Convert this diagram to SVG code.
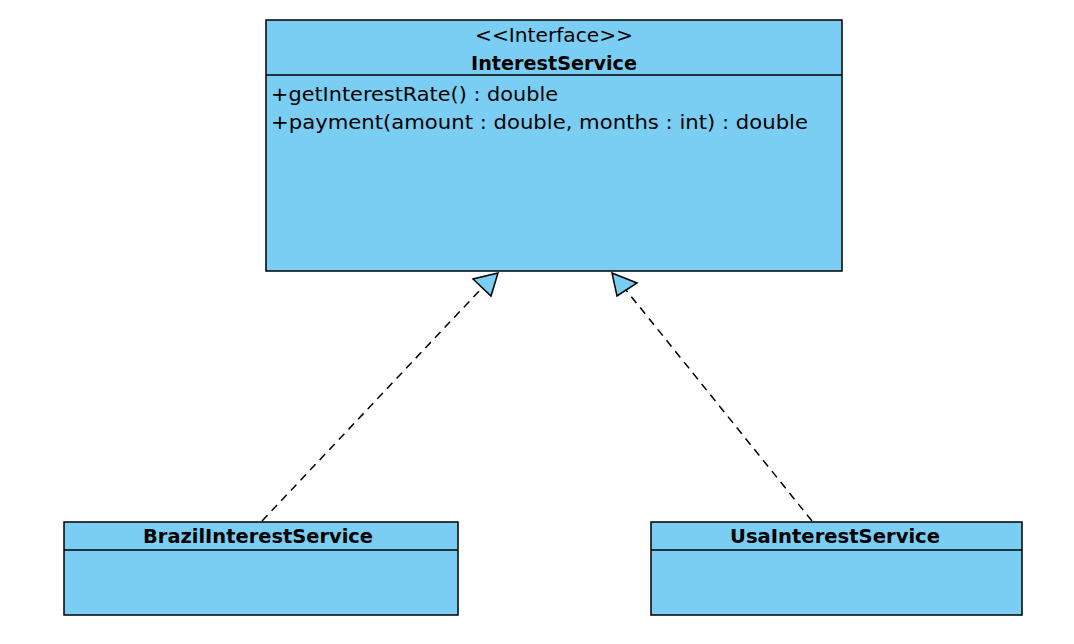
<svg xmlns="http://www.w3.org/2000/svg" width="1074" height="644" viewBox="0 0 1074 644">
<style>
.box{fill:#7acef4;stroke:#000;stroke-width:1.5}
.sep{stroke:#000;stroke-width:1.5}
.t{font-family:"DejaVu Sans","Liberation Sans",sans-serif;font-size:19px;fill:#000}
.b{font-weight:bold}
.c{text-anchor:middle}
.dash{fill:none;stroke:#000;stroke-width:1.5;stroke-dasharray:8,6}
.tri{fill:#7acef4;stroke:#000;stroke-width:1.5;stroke-linejoin:miter}
</style>
<rect width="1074" height="644" fill="#fff"/>
<g id="InterestService">
<rect class="box" x="266" y="20" width="576" height="251"/>
<line class="sep" x1="266" y1="75" x2="842" y2="75"/>
<text class="t c" x="554" y="42" textLength="158" lengthAdjust="spacingAndGlyphs">&lt;&lt;Interface&gt;&gt;</text>
<text class="t b c" x="554" y="70" textLength="166" lengthAdjust="spacingAndGlyphs">InterestService</text>
<text class="t" x="271" y="101" textLength="287" lengthAdjust="spacingAndGlyphs">+getInterestRate() : double</text>
<text class="t" x="271" y="129" textLength="537" lengthAdjust="spacingAndGlyphs">+payment(amount : double, months : int) : double</text>
</g>
<g id="BrazilInterestService">
<rect class="box" x="64" y="522" width="394" height="93"/>
<line class="sep" x1="64" y1="550" x2="458" y2="550"/>
<text class="t b c" x="258" y="543" textLength="230" lengthAdjust="spacingAndGlyphs">BrazilInterestService</text>
</g>
<g id="UsaInterestService">
<rect class="box" x="651" y="522" width="371" height="93"/>
<line class="sep" x1="651" y1="550" x2="1022" y2="550"/>
<text class="t b c" x="835" y="543" textLength="210" lengthAdjust="spacingAndGlyphs">UsaInterestService</text>
</g>
<g id="connectors">
<line class="dash" x1="262" y1="521" x2="482" y2="288"/>
<polygon class="tri" points="498,273 473,279 491,296"/>
<line class="dash" x1="812" y1="521" x2="626" y2="290"/>
<polygon class="tri" points="612,273 637,283 617,296"/>
</g>
</svg>
